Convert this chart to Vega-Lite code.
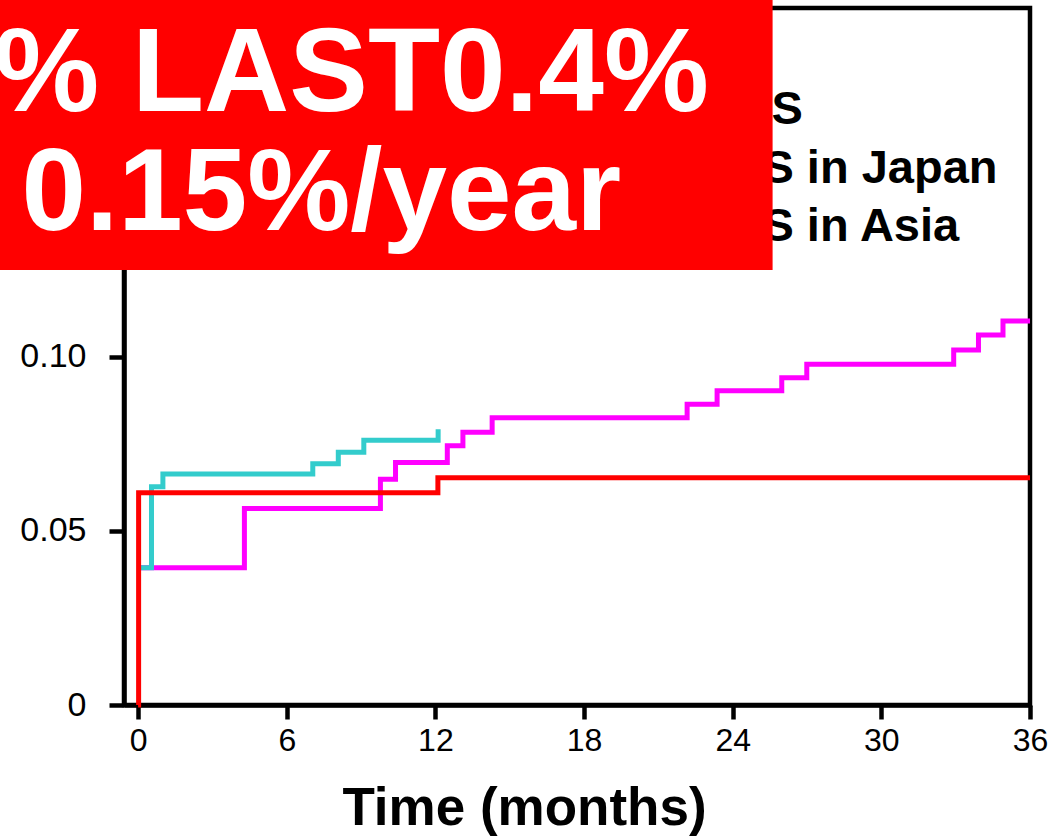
{
  "$schema": "https://vega.github.io/schema/vega-lite/v6.json",
  "width": 906,
  "height": 697,
  "autosize": {"type": "none"},
  "padding": {"left": 124, "top": 8, "right": 23, "bottom": 134},
  "background": "white",
  "config": {
    "view": {"stroke": "black", "strokeWidth": 4.5},
    "font": "Liberation Sans"
  },
  "datasets": {
    "asia": [
      {"month": 0, "risk": 0.0394},
      {"month": 4.29, "risk": 0.0564},
      {"month": 9.78, "risk": 0.0648},
      {"month": 10.39, "risk": 0.0696},
      {"month": 12.48, "risk": 0.0744},
      {"month": 13.11, "risk": 0.0783},
      {"month": 14.29, "risk": 0.0824},
      {"month": 22.16, "risk": 0.0863},
      {"month": 23.37, "risk": 0.0902},
      {"month": 25.98, "risk": 0.0939},
      {"month": 26.99, "risk": 0.0978},
      {"month": 32.92, "risk": 0.1019},
      {"month": 33.92, "risk": 0.1062},
      {"month": 34.91, "risk": 0.1102},
      {"month": 36, "risk": 0.1102}
    ],
    "japan": [
      {"month": 0, "risk": 0.0394},
      {"month": 0.54, "risk": 0.0626},
      {"month": 1.0, "risk": 0.0663},
      {"month": 7.05, "risk": 0.0692},
      {"month": 8.08, "risk": 0.0725},
      {"month": 9.11, "risk": 0.076},
      {"month": 12.11, "risk": 0.0791}
    ],
    "overall": [
      {"month": 0, "risk": 0},
      {"month": 0.02, "risk": 0.0609},
      {"month": 12.1, "risk": 0.0652},
      {"month": 36, "risk": 0.0652}
    ]
  },
  "layer": [
    {
      "data": {"name": "asia"},
      "mark": {"type": "line", "interpolate": "step-after", "color": "#ff00ff", "strokeWidth": 5},
      "encoding": {
        "x": {
          "field": "month",
          "type": "quantitative",
          "scale": {"domain": [-0.57, 36], "nice": false, "zero": false},
          "axis": {
            "title": "Time (months)",
            "values": [0, 6, 12, 18, 24, 30, 36],
            "format": "d",
            "grid": false,
            "domainColor": "black",
            "domainWidth": 4.5,
            "tickColor": "black",
            "tickWidth": 4.5,
            "tickSize": 14,
            "labelFont": "Liberation Sans",
            "labelFontSize": 32,
            "labelColor": "black",
            "labelPadding": 6,
            "labelFlush": false,
            "labelOverlap": false,
            "titleFont": "Liberation Sans",
            "titleFontSize": 53,
            "titleFontWeight": "bold",
            "titleColor": "black",
            "titleX": 400,
            "titleY": 119,
            "titleAlign": "center",
            "titleBaseline": "alphabetic"
          }
        },
        "y": {
          "field": "risk",
          "type": "quantitative",
          "scale": {"domain": [0, 0.2], "nice": false, "zero": true},
          "axis": {
            "title": null,
            "values": [0, 0.05, 0.1],
            "labelExpr": "datum.value == 0 ? '0' : format(datum.value, '.2f')",
            "grid": false,
            "domainColor": "black",
            "domainWidth": 4.5,
            "tickColor": "black",
            "tickWidth": 4.5,
            "tickSize": 15,
            "labelFont": "Liberation Sans",
            "labelFontSize": 34,
            "labelColor": "black",
            "labelPadding": 23,
            "labelFlush": false,
            "labelOverlap": false
          }
        }
      }
    },
    {
      "data": {"name": "japan"},
      "mark": {"type": "line", "interpolate": "step-after", "color": "#33cccc", "strokeWidth": 5},
      "encoding": {
        "x": {"field": "month", "type": "quantitative"},
        "y": {"field": "risk", "type": "quantitative"}
      }
    },
    {
      "data": {"name": "overall"},
      "mark": {"type": "line", "interpolate": "step-after", "color": "#ff0000", "strokeWidth": 5},
      "encoding": {
        "x": {"field": "month", "type": "quantitative"},
        "y": {"field": "risk", "type": "quantitative"}
      }
    },
    {
      "data": {"values": [{"label": "S"}]},
      "mark": {"type": "text", "align": "left", "baseline": "alphabetic", "font": "Liberation Sans", "fontSize": 47, "fontWeight": "bold", "color": "black"},
      "encoding": {
        "x": {"datum": 25.57, "type": "quantitative"},
        "y": {"datum": 0.1667, "type": "quantitative"},
        "text": {"field": "label"}
      }
    },
    {
      "data": {"values": [{"label": "S in Japan"}]},
      "mark": {"type": "text", "align": "left", "baseline": "alphabetic", "font": "Liberation Sans", "fontSize": 47, "fontWeight": "bold", "color": "black"},
      "encoding": {
        "x": {"datum": 25.2, "type": "quantitative"},
        "y": {"datum": 0.1498, "type": "quantitative"},
        "text": {"field": "label"}
      }
    },
    {
      "data": {"values": [{"label": "S in Asia"}]},
      "mark": {"type": "text", "align": "left", "baseline": "alphabetic", "font": "Liberation Sans", "fontSize": 47, "fontWeight": "bold", "color": "black"},
      "encoding": {
        "x": {"datum": 25.2, "type": "quantitative"},
        "y": {"datum": 0.1331, "type": "quantitative"},
        "text": {"field": "label"}
      }
    },
    {
      "data": {"values": [{}]},
      "mark": {"type": "rect", "color": "#ff0000"},
      "encoding": {
        "x": {"datum": -6.5, "type": "quantitative"},
        "x2": {"datum": 25.61},
        "y": {"datum": 0.1248, "type": "quantitative"},
        "y2": {"datum": 0.22}
      }
    },
    {
      "data": {"values": [{"label": "% LAST0.4%"}]},
      "mark": {"type": "text", "align": "right", "baseline": "alphabetic", "font": "Liberation Sans", "fontSize": 118, "fontWeight": "bold", "color": "white"},
      "encoding": {
        "x": {"datum": 23.04, "type": "quantitative"},
        "y": {"datum": 0.1704, "type": "quantitative"},
        "text": {"field": "label"}
      }
    },
    {
      "data": {"values": [{"label": "0.15%/year"}]},
      "mark": {"type": "text", "align": "left", "baseline": "alphabetic", "font": "Liberation Sans", "fontSize": 116, "fontWeight": "bold", "color": "white"},
      "encoding": {
        "x": {"datum": -4.71, "type": "quantitative"},
        "y": {"datum": 0.1363, "type": "quantitative"},
        "text": {"field": "label"}
      }
    }
  ]
}
